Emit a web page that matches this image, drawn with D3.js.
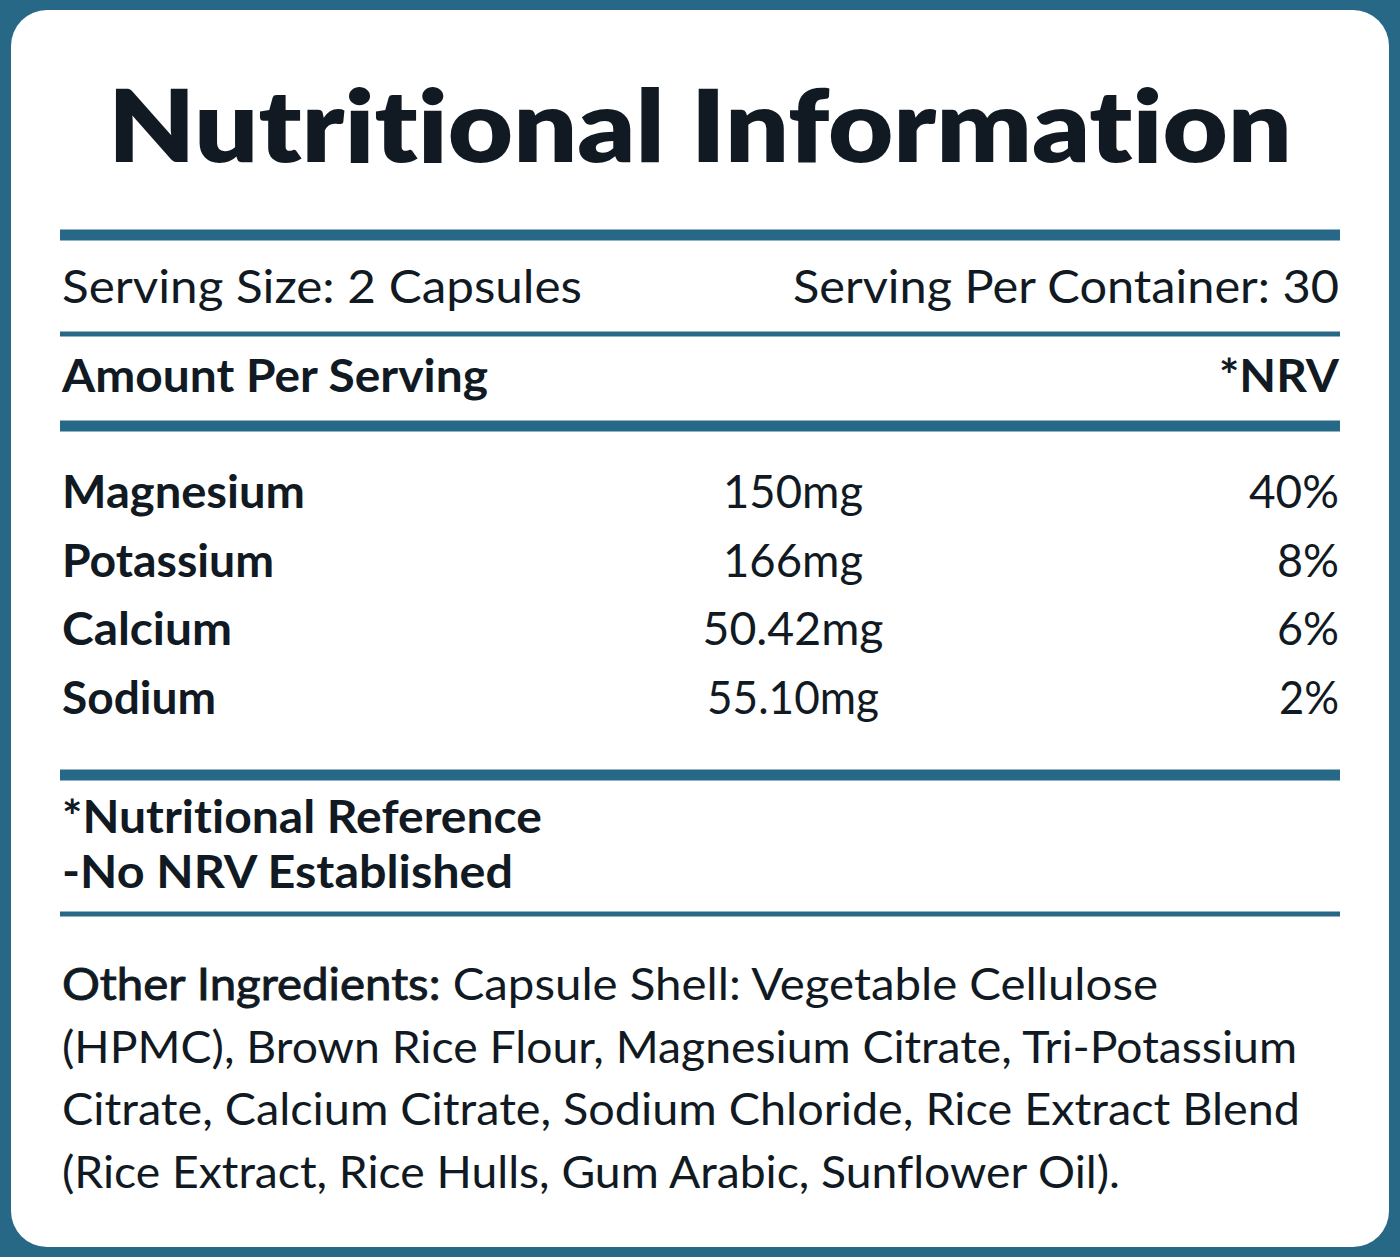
<!DOCTYPE html>
<html>
<head>
<meta charset="utf-8">
<script src="https://cdn.jsdelivr.net/npm/d3@7"></script>
<style>
  body { margin: 0; background: #276887; }
  svg { display: block; }
  text { font-variant-ligatures: none; font-feature-settings: "liga" 0, "clig" 0; }
</style>
</head>
<body>
<div id="label"></div>
<script>
// label content
var title = "Nutritional Information";
var servingSize = "Serving Size: 2 Capsules";
var servingPer = "Serving Per Container: 30";
var headLeft = "Amount Per Serving";
var headRight = "*NRV";

var nutrients = ["Magnesium", "Potassium", "Calcium", "Sodium"];
var amounts = ["150mg", "166mg", "50.42mg", "55.10mg"];
var nrv = ["40%", "8%", "6%", "2%"];

var footnotes = ["*Nutritional Reference", "-No NRV Established"];

var ingredientLabel = "Other Ingredients:";
var ingredientLines = [
  " Capsule Shell: Vegetable Cellulose",
  "(HPMC), Brown Rice Flour, Magnesium Citrate, Tri-Potassium",
  "Citrate, Calcium Citrate, Sodium Chloride, Rice Extract Blend",
  "(Rice Extract, Rice Hulls, Gum Arabic, Sunflower Oil)."
];

var svgWidth = 1400;
var svgHeight = 1257;
var blue = "#276887";
var ink = "#111a23";
var font = "Lato, 'Open Sans', sans-serif";

var left = 62, right = 1339;

var svg = d3.select("#label")
  .append("svg")
  .attr("width", svgWidth)
  .attr("height", svgHeight);

svg.append("rect")
  .attr("width", svgWidth)
  .attr("height", svgHeight)
  .attr("fill", blue);

// white card
svg.append("rect")
  .attr("x", 11)
  .attr("y", 10)
  .attr("width", 1378)
  .attr("height", 1237)
  .attr("rx", 36)
  .attr("fill", "#ffffff");

// helper for fitted text
function addText(str, x, y, size, weight, anchor, len) {
  var t = svg.append("text")
    .attr("x", x)
    .attr("y", y)
    .attr("font-family", font)
    .attr("font-size", size)
    .attr("font-weight", weight)
    .attr("fill", ink)
    .attr("text-anchor", anchor || "start")
    .text(str);
  if (len) {
    t.attr("textLength", len).attr("lengthAdjust", "spacingAndGlyphs");
  }
  return t;
}

// title
addText(title, 700, 162, 101, 800, "middle", 1184);

// divider rules
var rules = [
  { y: 235, w: 11 },
  { y: 334, w: 5 },
  { y: 426, w: 11 },
  { y: 775, w: 11 },
  { y: 914, w: 5 }
];
svg.selectAll("line.rule")
  .data(rules)
  .enter()
  .append("line")
  .attr("class", "rule")
  .attr("x1", 60)
  .attr("x2", 1340)
  .attr("y1", d => d.y)
  .attr("y2", d => d.y)
  .attr("stroke", blue)
  .attr("stroke-width", d => d.w);

// serving info
addText(servingSize, left, 303, 46, 400, "start", 520);
addText(servingPer, right, 303, 46, 400, "end", 546);

// header
addText(headLeft, left, 392, 46, 700, "start", 426);
addText(headRight, right, 392, 46, 700, "end", 120);

// nutrient rows
var rowY = d3.scalePoint()
  .domain(nutrients)
  .range([508, 714]);

var nameWidths = [243, 212, 170, 154];
var amountWidths = [140, 140, 181, 172];
var nrvWidths = [90, 62, 62, 60];

nutrients.forEach(function(n, i) {
  addText(n, left, rowY(n), 46, 700, "start", nameWidths[i]);
  addText(amounts[i], 793, rowY(n), 46, 400, "middle", amountWidths[i]);
  addText(nrv[i], right, rowY(n), 46, 400, "end", nrvWidths[i]);
});

// footnotes
var footY = d3.scalePoint().domain(footnotes).range([833, 888]);
var footWidths = [480, 451];
footnotes.forEach(function(f, i) {
  addText(f, left, footY(f), 46, 700, "start", footWidths[i]);
});

// other ingredients
var ingY = d3.scaleLinear().domain([0, ingredientLines.length - 1]).range([1000, 1188]);
var ingWidths = [1096, 1235, 1238, 1058];

ingredientLines.forEach(function(line, i) {
  var t = svg.append("text")
    .attr("x", left)
    .attr("y", ingY(i))
    .attr("font-family", font)
    .attr("font-size", 45)
    .attr("font-weight", 400)
    .attr("fill", ink)
    .attr("textLength", ingWidths[i])
    .attr("lengthAdjust", "spacingAndGlyphs");
  if (i === 0) {
    // label is only slightly heavier than the body text
    t.append("tspan")
      .attr("stroke", ink)
      .attr("stroke-width", 0.9)
      .text(ingredientLabel);
  }
  t.append("tspan").text(line);
});
</script>
</body>
</html>
